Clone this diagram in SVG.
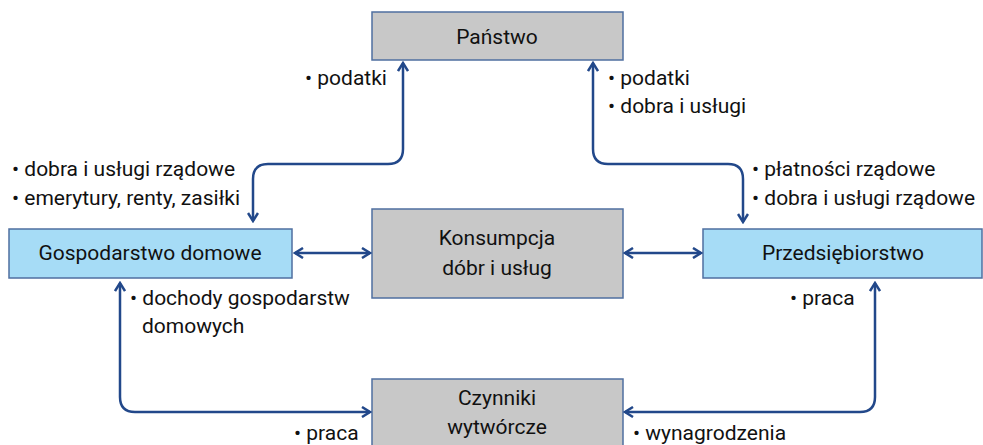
<svg xmlns="http://www.w3.org/2000/svg" width="983" height="445" viewBox="0 0 983 445">
<defs>
<style>
.grey{fill:#c8c8c8;stroke:#4f6fa0;stroke-width:1.5}
.blue{fill:#a6dcf6;stroke:#4f6fa0;stroke-width:1.5}
text{font-family:Roboto,"Liberation Sans",sans-serif;font-size:21px;fill:#111}
.c{text-anchor:middle}
.ln{fill:none;stroke:#22488a;stroke-width:2.5}
</style>
<marker id="ah" viewBox="0 0 12 12" refX="10" refY="6" markerWidth="12" markerHeight="12" markerUnits="userSpaceOnUse" orient="auto-start-reverse">
<path d="M2,1 L10,6 L2,11" fill="none" stroke="#22488a" stroke-width="2.5"/>
</marker>
</defs>
<rect width="983" height="445" fill="#fff"/>
<g id="panstwo"><rect class="grey" x="372" y="12" width="251" height="48"/><text class="c" x="497" y="44">Państwo</text></g>
<g id="gospodarstwo"><rect class="blue" x="9" y="229" width="283" height="49"/><text class="c" x="150" y="260">Gospodarstwo domowe</text></g>
<g id="konsumpcja"><rect class="grey" x="372" y="209" width="251" height="89"/><text class="c" x="497" y="245">Konsumpcja</text><text class="c" x="497" y="275">dóbr i usług</text></g>
<g id="przedsiebiorstwo"><rect class="blue" x="703" y="229" width="279" height="49"/><text class="c" x="843" y="260">Przedsiębiorstwo</text></g>
<g id="czynniki"><rect class="grey" x="372" y="379" width="251" height="70"/><text class="c" x="497" y="405">Czynniki</text><text class="c" x="497" y="434">wytwórcze</text></g>
<g id="connectors">
<path class="ln" d="M253,221 L253,179 Q253,164 268,164 L388,164 Q403,164 403,149 L403,63" marker-start="url(#ah)" marker-end="url(#ah)"/>
<path class="ln" d="M593,63 L593,149 Q593,164 608,164 L728,164 Q743,164 743,179 L743,222" marker-start="url(#ah)" marker-end="url(#ah)"/>
<path class="ln" d="M295,253 L370,253" marker-start="url(#ah)" marker-end="url(#ah)"/>
<path class="ln" d="M625,253 L701,253" marker-start="url(#ah)" marker-end="url(#ah)"/>
<path class="ln" d="M120,283 L120,397 Q120,412 135,412 L370,412" marker-start="url(#ah)" marker-end="url(#ah)"/>
<path class="ln" d="M875,283 L875,397 Q875,412 860,412 L625,412" marker-start="url(#ah)" marker-end="url(#ah)"/>
</g>
<g id="labels">
<text x="305" y="85">• podatki</text>
<text x="608" y="85">• podatki</text>
<text x="608" y="113">• dobra i usługi</text>
<text x="12" y="176">• dobra i usługi rządowe</text>
<text x="12" y="205">• emerytury, renty, zasiłki</text>
<text x="752" y="176">• płatności rządowe</text>
<text x="752" y="205">• dobra i usługi rządowe</text>
<text x="130" y="305">• dochody gospodarstw</text>
<text x="142" y="333">domowych</text>
<text x="790" y="305">• praca</text>
<text x="294" y="440">• praca</text>
<text x="633" y="440">• wynagrodzenia</text>
</g>
</svg>
